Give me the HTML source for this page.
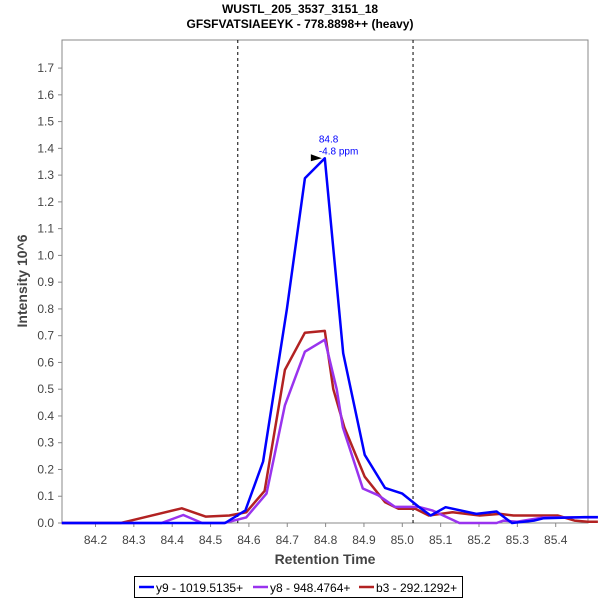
<!DOCTYPE html>
<html><head><meta charset="utf-8"><style>
body{margin:0;background:#fff;font-family:"Liberation Sans",sans-serif}
</style></head><body>
<svg id="chart" width="600" height="600" xmlns="http://www.w3.org/2000/svg" style="display:block">
<rect width="600" height="600" fill="#fff"/>
<text x="300" y="13" text-anchor="middle" font-size="12" font-weight="bold" fill="#000">WUSTL_205_3537_3151_18</text>
<text x="300" y="28" text-anchor="middle" font-size="12" font-weight="bold" fill="#000">GFSFVATSIAEEYK - 778.8898++ (heavy)</text>
<rect x="62" y="40" width="526" height="483" fill="#fff" stroke="#888" stroke-width="1"/>
<g id="axes"></g>
<g id="series"></g>
<text transform="translate(27,281) rotate(-90)" text-anchor="middle" font-size="14" font-weight="bold" fill="#444">Intensity 10^6</text>
<text x="325" y="564" text-anchor="middle" font-size="14" font-weight="bold" fill="#444">Retention Time</text>
<g>
<rect x="134.5" y="576.5" width="328" height="21" fill="#fff" stroke="#000"/>
<line x1="139" y1="587" x2="154" y2="587" stroke="#0000ff" stroke-width="2.5"/>
<text x="156" y="592" font-size="12" fill="#000">y9 - 1019.5135+</text>
<line x1="253" y1="587" x2="268" y2="587" stroke="#9933ee" stroke-width="2.5"/>
<text x="270" y="592" font-size="12" fill="#000">y8 - 948.4764+</text>
<line x1="359" y1="587" x2="374" y2="587" stroke="#b22222" stroke-width="2.5"/>
<text x="376" y="592" font-size="12" fill="#000">b3 - 292.1292+</text>
</g>
</svg>
<script>
const xTicks=[84.2,84.3,84.4,84.5,84.6,84.7,84.8,84.9,85.0,85.1,85.2,85.3,85.4];
const yTicks=[0.0,0.1,0.2,0.3,0.4,0.5,0.6,0.7,0.8,0.9,1.0,1.1,1.2,1.3,1.4,1.5,1.6,1.7];
const boundaries=[84.571,85.028];
const y9Times=[84.112,84.538,84.591,84.637,84.699,84.746,84.798,84.846,84.902,84.955,85.0,85.043,85.074,85.113,85.193,85.246,85.286,85.343,85.369,85.475,85.51];
const y9Values=[0,0,0.047,0.23,0.8,1.288,1.363,0.634,0.255,0.131,0.11,0.06,0.028,0.059,0.034,0.043,0,0.009,0.018,0.022,0.022];
const y8Times=[84.112,84.372,84.429,84.478,84.535,84.593,84.646,84.694,84.746,84.798,84.829,84.845,84.897,84.937,84.981,85.043,85.078,85.149,85.246,85.264,85.299,85.369,85.51];
const y8Values=[0,0,0.03,0,0,0.021,0.11,0.44,0.64,0.685,0.5,0.357,0.129,0.104,0.06,0.06,0.047,0,0,0.009,0.005,0.021,0.021];
const b3Times=[84.112,84.266,84.425,84.487,84.549,84.593,84.641,84.694,84.746,84.798,84.82,84.849,84.902,84.955,84.99,85.034,85.069,85.131,85.202,85.255,85.29,85.405,85.449,85.484,85.51];
const b3Values=[0,0,0.055,0.024,0.028,0.04,0.12,0.572,0.711,0.718,0.5,0.357,0.173,0.078,0.053,0.053,0.028,0.04,0.028,0.034,0.028,0.028,0.009,0.005,0.005];
const peakTime=84.798, peakValue=1.363;

const NS="http://www.w3.org/2000/svg";
const X0=62,X1=588,Y0=40,Y1=523;
function xs(v){return 95.5+(v-84.2)*383.5;}
function ys(v){return 523-v*267.6;}
function el(t,a,p){const e=document.createElementNS(NS,t);for(const k in a)e.setAttribute(k,a[k]);p.appendChild(e);return e;}
const axes=document.getElementById('axes');
xTicks.forEach(t=>{
  const x=xs(t);
  const l=el('line',{x1:x,y1:523,x2:x,y2:527,stroke:'#888'},axes);
  
  
  const tx=el('text',{x:x,y:544,'text-anchor':'middle','font-size':'12',fill:'#444'},axes);
  
  
  tx.textContent=t.toFixed(1);
});
yTicks.forEach(t=>{
  const y=ys(t);
  const l=el('line',{x1:58,y1:y,x2:62,y2:y,stroke:'#888'},axes);
  
  
  const tx=el('text',{x:54,y:y+4,'text-anchor':'end','font-size':'12',fill:'#444'},axes);
  
  
  tx.textContent=t.toFixed(1);
});
boundaries.forEach(b=>{
  const l=el('line',{x1:xs(b),y1:40,x2:xs(b),y2:523,stroke:'#000','stroke-dasharray':'3,3','stroke-width':'1'},axes);
  
  
});
const ser=document.getElementById('series');
function line(ts,vs,c,name){
  const pts=ts.map((t,i)=>xs(t).toFixed(1)+','+ys(vs[i]).toFixed(1)).join(' ');
  const p=el('polyline',{points:pts,fill:'none',stroke:c,'stroke-width':'2.5','stroke-linejoin':'round'},ser);
  
  
}
line(b3Times,b3Values,'#b22222','series-b3');
line(y8Times,y8Values,'#9933ee','series-y8');
line(y9Times,y9Values,'#0000ff','series-y9');
const px=xs(peakTime),py=ys(peakValue);
const m=el('polygon',{points:(px-14)+','+(py-4)+' '+(px-3)+','+py+' '+(px-14)+','+(py+3),fill:'#000'},ser);


const a1=el('text',{x:px-6,y:py-16,'font-size':'10',fill:'#0000ff'},ser);


a1.textContent=peakTime.toFixed(1);
const a2=el('text',{x:px-6,y:py-4,'font-size':'10',fill:'#0000ff'},ser);


a2.textContent='-4.8 ppm';
</script>
</body></html>
